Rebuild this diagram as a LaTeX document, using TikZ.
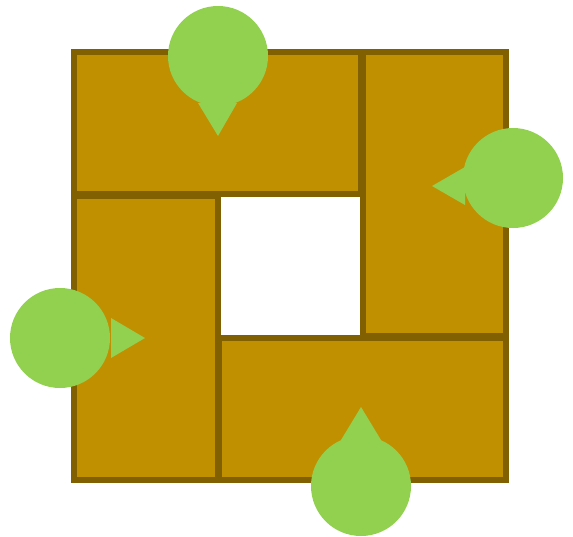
\documentclass[tikz,border=0pt]{standalone}
\definecolor{boxfill}{RGB}{192,144,0}
\definecolor{boxline}{RGB}{128,96,0}
\definecolor{pin}{RGB}{146,208,80}
\begin{document}
\begin{tikzpicture}[x=1pt,y=-1pt,
  blk/.style={draw=boxline,fill=boxfill,line width=6pt,rectangle,inner sep=0pt,outer sep=0pt},
  pinhead/.style={circle,fill=pin,minimum size=100pt,inner sep=0pt},
  pintip/.style={fill=pin}]
\useasboundingbox (0,0) rectangle (573,536);
\node[blk,minimum width=287pt,minimum height=142pt] (top) at (217.5,123) {};
\node[blk,minimum width=143pt,minimum height=284pt] (right) at (434.5,194) {};
\node[blk,minimum width=287pt,minimum height=142pt] (bottom) at (362.5,409) {};
\node[blk,minimum width=144pt,minimum height=284pt] (left) at (146,338) {};
% pins
\node[pinhead] (ptop) at (218,56) {};
\fill[pintip] (198,103) -- (237,103) -- (218,136) -- cycle;
\node[pinhead] (pright) at (513,178) {};
\fill[pintip] (465,167) -- (465,205) -- (432,186) -- cycle;
\node[pinhead] (pleft) at (60,338) {};
\fill[pintip] (111,318) -- (111,358) -- (145,338) -- cycle;
\node[pinhead] (pbottom) at (361,486) {};
\fill[pintip] (341,440) -- (381,440) -- (361,407) -- cycle;
\end{tikzpicture}
\end{document}
